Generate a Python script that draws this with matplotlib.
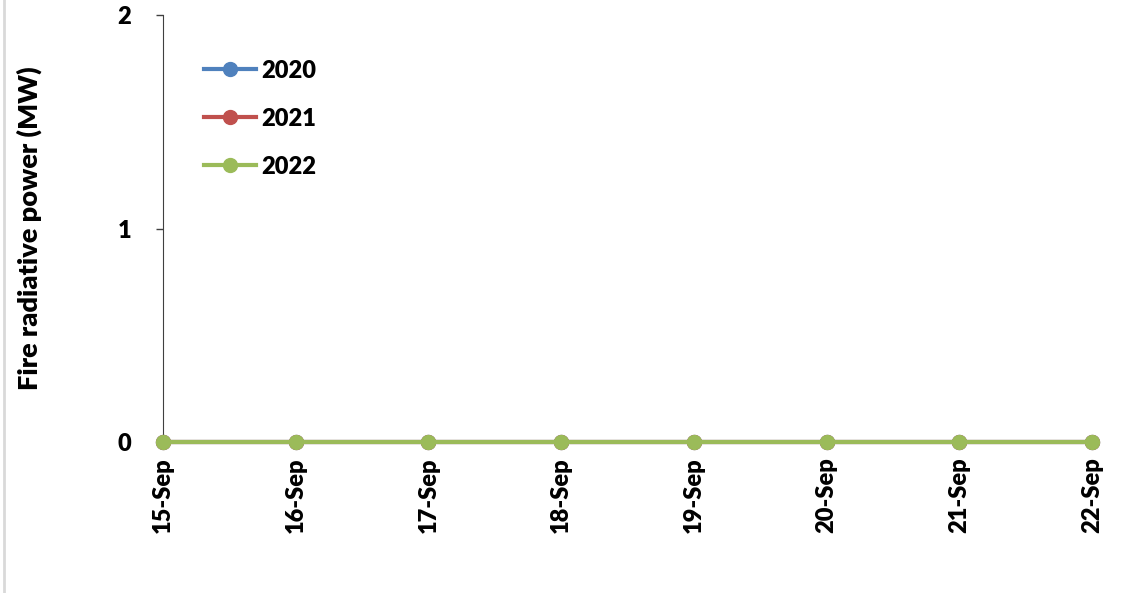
import matplotlib
matplotlib.use("Agg")
import matplotlib.pyplot as plt
from matplotlib.lines import Line2D

dates = ["15-Sep", "16-Sep", "17-Sep", "18-Sep", "19-Sep", "20-Sep", "21-Sep", "22-Sep"]
frp_2020 = [0, 0, 0, 0, 0, 0, 0, 0]
frp_2021 = [0, 0, 0, 0, 0, 0, 0, 0]
frp_2022 = [0, 0, 0, 0, 0, 0, 0, 0]

plt.rcParams["font.family"] = ["Lato", "DejaVu Sans"]
plt.rcParams["font.weight"] = "heavy"

fig = plt.figure(figsize=(11.42, 5.93), dpi=100)
ax = fig.add_axes([163 / 1142, 1 - 442 / 593, (1092 - 163) / 1142, (442 - 15) / 593])

x = list(range(len(dates)))
series = [("2020", frp_2020, "#4F81BD"), ("2021", frp_2021, "#C0504D"), ("2022", frp_2022, "#9BBB59")]
for name, vals, col in series:
    ax.plot(x, vals, color=col, lw=3, marker="o", ms=10, label=name, clip_on=False, zorder=3)

ax.set_xlim(0, len(dates) - 1)
ax.set_ylim(0, 2)
ax.set_yticks([0, 1, 2])
ax.set_xticks(x)
ax.set_xticklabels(dates, rotation=90, fontsize=17, fontweight="heavy")
for lab in ax.get_yticklabels():
    lab.set_fontsize(17)
    lab.set_fontweight("heavy")
ax.tick_params(axis="both", direction="out", length=5, width=1, color="#404040", pad=6)
ax.tick_params(axis="y", pad=18)

for s in ["top", "right"]:
    ax.spines[s].set_visible(False)
ax.spines["left"].set_color("#404040")
ax.spines["bottom"].set_color("#868686")

ax.set_ylabel("Fire radiative power (MW)", fontsize=19.5, fontweight="heavy")
ax.yaxis.set_label_coords(-0.13, 0.5)

ax.legend(loc="upper left", bbox_to_anchor=(0.021, 0.945), frameon=False,
          prop={"size": 17, "weight": "heavy"}, handlelength=2.2, handletextpad=0.25,
          labelspacing=1.1)

# faint frame edge on the left of the chart area
fig.add_artist(Line2D([4 / 1142, 4 / 1142], [0, 1], color="#d9d9d9", lw=2))

fig.savefig("out.png", dpi=100)
